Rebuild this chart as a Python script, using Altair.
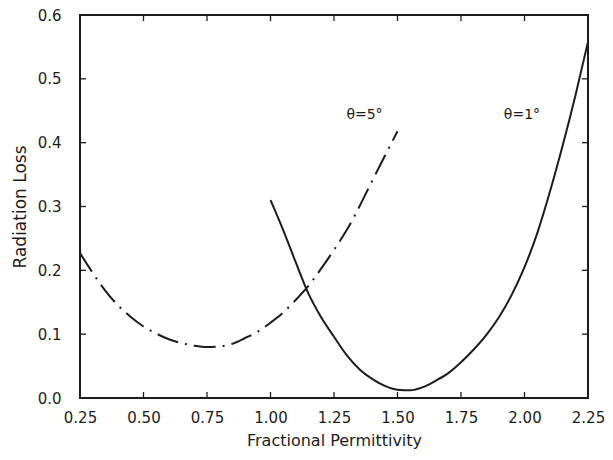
import altair as alt
import pandas as pd

# theta = 5 deg (dash-dot)
x5 = [0.25, 0.30, 0.35, 0.40, 0.45, 0.50, 0.55, 0.60, 0.65, 0.70, 0.75, 0.80, 0.85,
      0.90, 0.95, 1.00, 1.05, 1.10, 1.15, 1.20, 1.25, 1.30, 1.35, 1.40, 1.45, 1.50]
y5 = [0.227, 0.196, 0.168, 0.145, 0.127, 0.112, 0.101, 0.092, 0.086, 0.082, 0.080, 0.081, 0.085,
      0.094, 0.104, 0.118, 0.134, 0.154, 0.176, 0.203, 0.232, 0.263, 0.300, 0.340, 0.379, 0.418]
# theta = 1 deg (solid)
x1 = [1.00, 1.05, 1.10, 1.15, 1.20, 1.25, 1.30, 1.35, 1.40, 1.45, 1.50, 1.55, 1.60, 1.65,
      1.70, 1.75, 1.80, 1.85, 1.90, 1.95, 2.00, 2.05, 2.10, 2.15, 2.20, 2.25]
y1 = [0.310, 0.263, 0.212, 0.163, 0.126, 0.096, 0.067, 0.045, 0.030, 0.019, 0.013, 0.012, 0.017, 0.027,
      0.039, 0.056, 0.076, 0.099, 0.127, 0.162, 0.205, 0.258, 0.323, 0.395, 0.473, 0.558]

label_text = ["θ=5°", "θ=1°"]
label_x = [1.37, 1.99]
label_y = [0.444, 0.444]

x_ticks = [0.25, 0.50, 0.75, 1.00, 1.25, 1.50, 1.75, 2.00, 2.25]
y_ticks = [0.0, 0.1, 0.2, 0.3, 0.4, 0.5, 0.6]

W, H = 508, 383
INK = "#1c1c1c"
FONT = "DejaVu Sans"

df5 = pd.DataFrame({"x": x5, "y": y5})
df1 = pd.DataFrame({"x": x1, "y": y1})
dlab = pd.DataFrame({"x": label_x, "y": label_y, "t": label_text})
dxt = pd.DataFrame({"x": x_ticks})
dyt = pd.DataFrame({"y": y_ticks})
one = pd.DataFrame({"k": [0]})

xs = alt.Scale(domain=[0.25, 2.25], nice=False, zero=False)
ys = alt.Scale(domain=[0.0, 0.6], nice=False, zero=False)

xaxis = alt.Axis(values=x_ticks, format=".2f", ticks=False, domain=False, grid=False,
                 labelFlush=False, labelOverlap=False,
                 labelPadding=12, labelFontSize=15, labelFont=FONT, labelColor=INK,
                 title="Fractional Permittivity", titleFont=FONT, titleFontSize=16,
                 titleFontWeight="normal", titleColor=INK, titleX=W / 2, titleY=42,
                 titleAlign="center", titleBaseline="middle")
yaxis = alt.Axis(values=y_ticks, format=".1f", ticks=False, domain=False, grid=False,
                 labelFlush=False, labelOverlap=False,
                 labelPadding=19, labelFontSize=15, labelFont=FONT, labelColor=INK,
                 title="Radiation Loss", titleFont=FONT, titleFontSize=17,
                 titleFontWeight="normal", titleColor=INK, titleX=-60, titleY=H / 2,
                 titleAngle=270, titleAlign="center", titleBaseline="middle")

X = alt.X("x:Q", scale=xs, axis=xaxis)
Y = alt.Y("y:Q", scale=ys, axis=yaxis)

solid = alt.Chart(df1).mark_line(color=INK, strokeWidth=2, interpolate="monotone").encode(x=X, y=Y)
dashdot = alt.Chart(df5).mark_line(color=INK, strokeWidth=2, interpolate="monotone",
                                   strokeDash=[22, 7, 2, 7]).encode(x=X, y=Y)
labels = alt.Chart(dlab).mark_text(font=FONT, fontSize=14, color=INK).encode(x=X, y=Y, text="t:N")

TL = 6
bottom_t = alt.Chart(dxt).mark_rule(color=INK, strokeWidth=1.3).encode(
    x=X, y=alt.value(H), y2=alt.value(H - TL))
top_t = alt.Chart(dxt).mark_rule(color=INK, strokeWidth=1.3).encode(
    x=X, y=alt.value(0), y2=alt.value(TL))
left_t = alt.Chart(dyt).mark_rule(color=INK, strokeWidth=1.3).encode(
    y=Y, x=alt.value(0), x2=alt.value(TL))
right_t = alt.Chart(dyt).mark_rule(color=INK, strokeWidth=1.3).encode(
    y=Y, x=alt.value(W), x2=alt.value(W - TL))

# plot frame
frame = alt.Chart(one).mark_rect(fillOpacity=0, stroke=INK, strokeWidth=2).encode(
    x=alt.value(0), x2=alt.value(W), y=alt.value(0), y2=alt.value(H))

chart = alt.layer(solid, dashdot, labels, bottom_t, top_t, left_t, right_t, frame).properties(
    width=W, height=H,
    background="white",
    autosize=alt.AutoSizeParams(type="none"),
    padding={"left": 72, "top": 7, "right": 17, "bottom": 53},
).configure_view(strokeWidth=0)

chart.save("out.html", embed_options={"renderer": "svg", "actions": False})
